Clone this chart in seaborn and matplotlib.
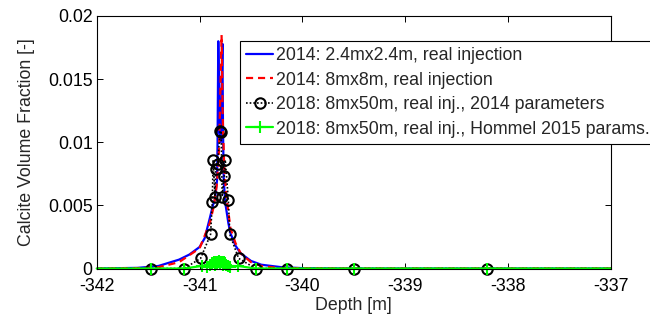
import matplotlib
matplotlib.use("Agg")
import matplotlib.pyplot as plt
import seaborn as sns
import numpy as np

# ---- data ----
blue_x = [-342.0, -341.6, -341.4, -341.2, -341.1, -341.0, -340.95, -340.9, -340.87, -340.85,
          -340.83, -340.825, -340.818, -340.805, -340.795, -340.778, -340.772, -340.765, -340.75,
          -340.72, -340.7, -340.65, -340.6, -340.5, -340.4, -340.2, -340.0, -339.5, -337.0]
blue_y = [0.0, 0.00005, 0.0002, 0.0007, 0.0011, 0.0017, 0.0024, 0.0040, 0.0050, 0.0055,
          0.0070, 0.0100, 0.0180, 0.0110, 0.0100, 0.0178, 0.0110, 0.0070, 0.0052,
          0.0036, 0.0028, 0.0018, 0.0012, 0.0006, 0.0003, 0.0001, 0.00003, 0.0, 0.0]

red_x = [-342.0, -341.6, -341.4, -341.2, -341.0, -340.9, -340.86, -340.83, -340.81, -340.795,
         -340.786, -340.775, -340.76, -340.74, -340.7, -340.65, -340.6, -340.5, -340.4, -340.3,
         -340.2, -339.5, -337.0]
red_y = [0.0, 0.00003, 0.0001, 0.0005, 0.0016, 0.0036, 0.0050, 0.0068, 0.0095, 0.0150,
         0.0185, 0.0120, 0.0080, 0.0058, 0.0032, 0.0020, 0.0012, 0.0005, 0.0002, 0.0001,
         0.00003, 0.0, 0.0]

black_x = [-342.0, -341.47, -341.15, -340.99, -340.893, -340.876, -340.868, -340.85, -340.845,
           -340.825, -340.80, -340.79, -340.78, -340.76, -340.75, -340.72, -340.706, -340.62,
           -340.455, -340.15, -339.5, -338.21, -337.0]
black_y = [0.0, 0.0, 0.0, 0.0008, 0.0027, 0.0053, 0.0086, 0.0057, 0.0079,
           0.0083, 0.0109, 0.0108, 0.0057, 0.0073, 0.0086, 0.0054, 0.0027, 0.0008,
           0.0, 0.0, 0.0, 0.0, 0.0]

green_x = [-342.0, -341.47, -341.15, -340.98, -340.93, -340.9, -340.88, -340.86, -340.85,
           -340.84, -340.83, -340.82, -340.81, -340.80, -340.79, -340.78, -340.77, -340.76,
           -340.75, -340.74, -340.72, -340.7, -340.625, -340.455, -340.15, -339.5, -338.21, -337.0]
green_y = [0.0, 0.0, 0.0, 0.0002, 0.0001, 0.0003, 0.0004, 0.0005, 0.0003,
           0.0005, 0.0004, 0.0005, 0.0006, 0.0004, 0.0005, 0.0005, 0.0003, 0.0005,
           0.0004, 0.0003, 0.0002, 0.0001, 0.0002, 0.0, 0.0, 0.0, 0.0, 0.0]

labels = ["2014: 2.4mx2.4m, real injection",
          "2014: 8mx8m, real injection",
          "2018: 8mx50m, real inj., 2014 parameters",
          "2018: 8mx50m, real inj., Hommel 2015 params."]
x_ticks = [-342, -341, -340, -339, -338, -337]
y_ticks = [0, 0.005, 0.01, 0.015, 0.02]
y_ticklabels = ["0", "0.005", "0.01", "0.015", "0.02"]

# ---- style ----
sns.set_style("ticks")
plt.rcParams["font.family"] = ["Liberation Sans", "DejaVu Sans"]
plt.rcParams["font.size"] = 12.8

fig = plt.figure(figsize=(6.5, 3.2), dpi=100)
ax = fig.add_axes([96.7 / 650, 1 - 268.5 / 320, 514.3 / 650, 252.5 / 320])

sns.lineplot(x=blue_x, y=blue_y, ax=ax, color=(0, 0, 1), lw=1.6, label=labels[0], sort=False)
sns.lineplot(x=red_x, y=red_y, ax=ax, color=(1, 0, 0), lw=1.6, linestyle=(0, (3.2, 2.2)),
             label=labels[1], sort=False)
sns.lineplot(x=black_x, y=black_y, ax=ax, color="black", lw=1.2, linestyle=(0, (1, 1.2)),
             marker="o", markersize=7.5, markerfacecolor="none", markeredgecolor="black",
             markeredgewidth=1.5, markevery=list(range(1, len(black_x) - 1)),
             clip_on=False, label=labels[2], sort=False)
sns.lineplot(x=green_x, y=green_y, ax=ax, color=(0, 1, 0), lw=1.6, marker="+",
             markersize=8, markeredgewidth=1.5, markeredgecolor=(0, 1, 0),
             markevery=list(range(1, len(green_x) - 1)), clip_on=False,
             label=labels[3], sort=False)

ax.set_xlim(-342, -337)
ax.set_ylim(0, 0.02)
ax.set_xticks(x_ticks)
ax.set_xticklabels([str(t) for t in x_ticks])
ax.set_yticks(y_ticks)
ax.set_yticklabels(y_ticklabels)
ax.tick_params(direction="in", length=4, width=0.7, top=True, right=True,
               labelsize=12.8, pad=3, colors="black")
ax.tick_params(axis="x", pad=7)
for s in ax.spines.values():
    s.set_visible(True)
    s.set_linewidth(0.8)
    s.set_color("black")

ax.set_xlabel("Depth [m]", fontsize=12.8, labelpad=1)
ax.set_ylabel("Calcite Volume Fraction [-]", fontsize=12.8, labelpad=9)

leg = ax.legend(loc="upper left", bbox_to_anchor=((240 - 96.7) / 514.3, (268.5 - 41) / 252.5),
                borderaxespad=0, fancybox=False, framealpha=1, edgecolor="black",
                fontsize=12.8, handlelength=1.5, handletextpad=0.15, labelspacing=0.42,
                borderpad=0.35)
leg.get_frame().set_linewidth(0.8)
leg.set_zorder(5)

fig.savefig("out.png", dpi=100)
